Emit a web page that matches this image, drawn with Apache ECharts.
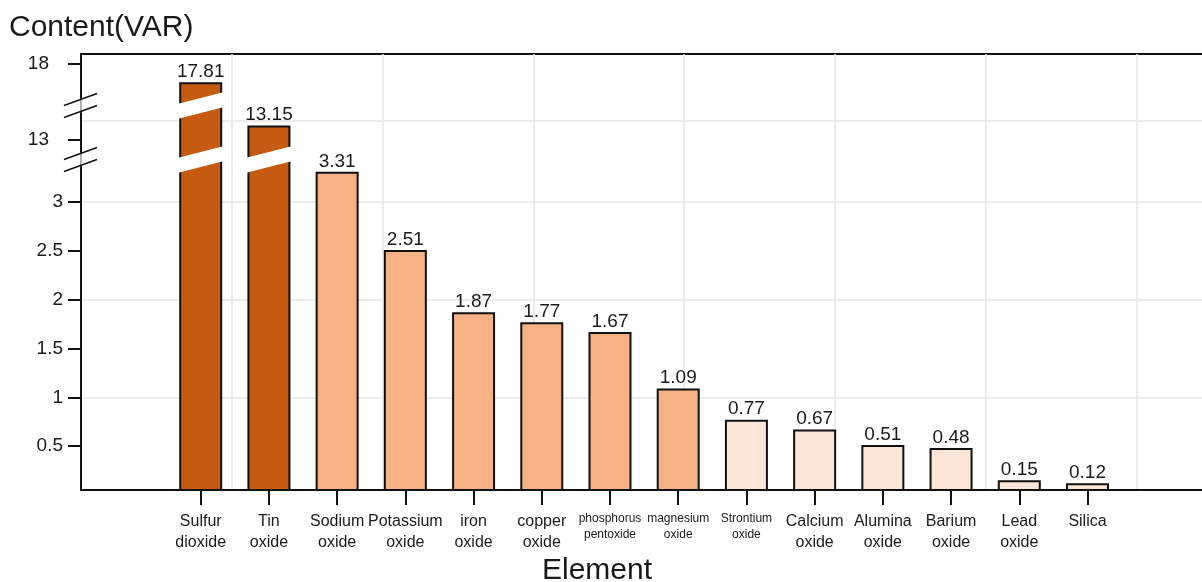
<!DOCTYPE html>
<html>
<head>
<meta charset="utf-8">
<script src="https://cdn.jsdelivr.net/npm/echarts@6/dist/echarts.min.js"></script>
<style>
  html, body { margin: 0; padding: 0; background: #fff; }
  #chart { width: 1202px; height: 582px; }
</style>
</head>
<body>
<div id="chart"></div>
<script>
// ---- data ----
const categories = [
  'Sulfur dioxide', 'Tin oxide', 'Sodium oxide', 'Potassium oxide', 'iron oxide',
  'copper oxide', 'phosphorus pentoxide', 'magnesium oxide', 'Strontium oxide',
  'Calcium oxide', 'Alumina oxide', 'Barium oxide', 'Lead oxide', 'Silica'
];
const contents = [17.81, 13.15, 3.31, 2.51, 1.87, 1.77, 1.67, 1.09, 0.77, 0.67, 0.51, 0.48, 0.15, 0.12];
const shadeGroup = [0, 0, 1, 1, 1, 1, 1, 1, 2, 2, 2, 2, 2, 2];
const yTickValues = [0.5, 1, 1.5, 2, 2.5, 3, 13, 18];
const yGridValues = [1, 2, 3, 13.2];
const yBreaks = [
  { start: 3.36, end: 12.88 },
  { start: 13.28, end: 17.65 }
];
const yRange = [0.05, 18.1];

// ---- styles ----
const FONT = "'Liberation Sans', Arial, Helvetica, sans-serif";
const INK = '#1a1a1a';
const SHADES = ['#C55A11', '#F4B183', '#FBE5D6'];
const GRID_LINE = '#e6e6e6';
const BAR_W = 43;
const BREAK_GAP = '3.44%';
const SMALL_LABELS = [6, 7, 8];

function valueAxis(extra) {
  return Object.assign({
    type: 'value',
    min: yRange[0],
    max: yRange[1],
    breaks: yBreaks.map(b => ({ start: b.start, end: b.end, gap: BREAK_GAP })),
    breakArea: { show: false }
  }, extra);
}

const chart = echarts.init(document.getElementById('chart'), null, { renderer: 'canvas' });

chart.setOption({
  animation: false,
  backgroundColor: '#fff',
  title: [
    {
      text: 'Content(VAR)', left: 9, top: 13, padding: 0,
      textStyle: { fontFamily: FONT, fontSize: 30, fontWeight: 'normal', color: INK }
    },
    {
      text: 'Element', left: 542, top: 556, padding: 0,
      textStyle: { fontFamily: FONT, fontSize: 30, fontWeight: 'normal', color: INK }
    }
  ],
  grid: [
    {
      left: 81, top: 54, width: 1140, height: 436,
      show: true, borderColor: '#111', borderWidth: 2, backgroundColor: 'transparent',
      outerBoundsMode: 'none'
    },
    { left: 166.6, top: 54, width: 955, height: 436, outerBoundsMode: 'none' }
  ],
  xAxis: [
    {
      gridIndex: 0, type: 'value', min: 0, max: 7.56, interval: 1,
      axisLine: { show: true, onZero: false, lineStyle: { color: '#111', width: 2 } },
      axisTick: { show: false },
      axisLabel: { show: false },
      splitLine: { show: true, lineStyle: { color: GRID_LINE, width: 1.5 } }
    },
    {
      gridIndex: 1, type: 'category', data: categories,
      axisLine: { show: false, onZero: false },
      axisTick: { show: true, alignWithLabel: true, length: 15, lineStyle: { color: '#111', width: 2 } },
      axisLabel: {
        interval: 0, margin: 21,
        formatter: (value, idx) => {
          const words = value.split(' ');
          const lines = words.length > 1 ? [words[0], words.slice(1).join(' ')] : [words[0]];
          const key = SMALL_LABELS.indexOf(idx) >= 0 ? 's' : 'n';
          return lines.map(l => '{' + key + '|' + l + '}').join('\n');
        },
        rich: {
          n: { fontFamily: FONT, fontSize: 16, lineHeight: 21, color: INK },
          s: { fontFamily: FONT, fontSize: 12, lineHeight: 16, color: INK }
        }
      },
      splitLine: { show: false }
    }
  ],
  yAxis: [
    valueAxis({
      gridIndex: 0,
      axisLine: { show: true, onZero: false, lineStyle: { color: '#111', width: 2 } },
      axisTick: { show: true, length: 13, customValues: yTickValues, lineStyle: { color: '#111', width: 2 } },
      axisLabel: {
        customValues: yTickValues, margin: 18,
        fontFamily: FONT, fontSize: 19, color: INK,
        formatter: v => (v >= 13 ? '{far|' + v + '}' : String(v)),
        rich: { far: { fontFamily: FONT, fontSize: 19, color: INK, padding: [0, 14, 0, 0] } }
      },
      splitLine: { show: false }
    }),
    valueAxis({
      gridIndex: 0,
      axisLine: { show: false },
      axisTick: { show: false, customValues: yGridValues },
      axisLabel: { show: false, customValues: yGridValues },
      splitLine: { show: true, lineStyle: { color: GRID_LINE, width: 1.5 } }
    }),
    valueAxis({ gridIndex: 1, show: false, splitLine: { show: false } })
  ],
  series: [
    {
      type: 'bar',
      xAxisIndex: 1, yAxisIndex: 2,
      barWidth: BAR_W,
      data: contents.map((v, i) => ({ value: v, itemStyle: { color: SHADES[shadeGroup[i]] } })),
      itemStyle: { borderColor: '#111', borderWidth: 2 },
      label: {
        show: true, position: 'top', distance: 1,
        fontFamily: FONT, fontSize: 19, color: INK,
        formatter: p => String(p.value)
      },
      z: 2
    },
    {
      // white slanted cuts where a bar passes through an axis break
      type: 'custom',
      xAxisIndex: 1, yAxisIndex: 2,
      silent: true, clip: false, z: 5,
      data: contents.map((v, i) => [i, v]),
      encode: { x: 0, y: 1 },
      renderItem: (params, api) => {
        const i = api.value(0), v = api.value(1);
        const cx = api.coord([i, yRange[0]])[0];
        const half = BAR_W / 2 + 2, slant = 6;
        const children = [];
        yBreaks.forEach(b => {
          if (v <= b.end) return;
          const yA = api.coord([i, b.start])[1];
          const yB = api.coord([i, b.end])[1];
          children.push({
            type: 'polygon',
            shape: { points: [
              [cx - half, yA + slant], [cx + half, yA - slant],
              [cx + half, yB - slant], [cx - half, yB + slant]
            ] },
            style: { fill: '#fff', stroke: null }
          });
        });
        return { type: 'group', children };
      }
    },
    {
      // double-slash break marks on the value axis
      type: 'custom',
      xAxisIndex: 0, yAxisIndex: 0,
      silent: true, clip: false, z: 6,
      data: yBreaks.map(b => [0, b.start, b.end]),
      encode: { x: 0, y: [1, 2] },
      renderItem: (params, api) => {
        const p0 = api.coord([api.value(0), api.value(1)]);
        const p1 = api.coord([api.value(0), api.value(2)]);
        const x = p0[0], mid = (p0[1] + p1[1]) / 2;
        const children = [-6, 6].map(dy => ({
          type: 'line',
          shape: { x1: x - 17, y1: mid + dy + 6, x2: x + 16, y2: mid + dy - 6 },
          style: { stroke: '#111', lineWidth: 1.6 }
        }));
        return { type: 'group', children };
      }
    }
  ]
});
</script>
</body>
</html>
